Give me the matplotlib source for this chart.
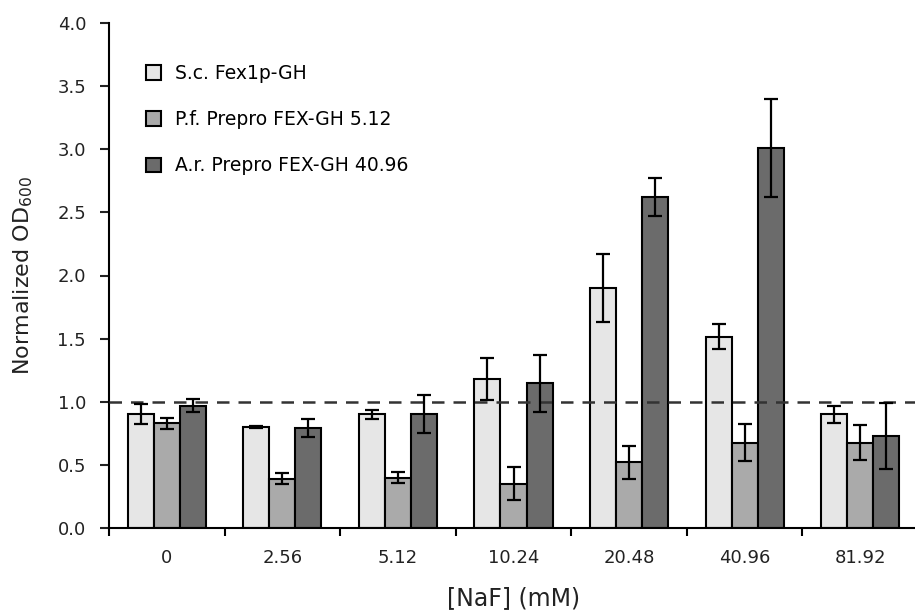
import numpy as np
import matplotlib
matplotlib.use("Agg")
import matplotlib.pyplot as plt
from matplotlib.patches import Patch

# data
concentrations = ["0", "2.56", "5.12", "10.24", "20.48", "40.96", "81.92"]
series_names = ["S.c. Fex1p-GH", "P.f. Prepro FEX-GH 5.12", "A.r. Prepro FEX-GH 40.96"]

sc_mean = [0.90, 0.80, 0.90, 1.18, 1.90, 1.515, 0.90]
sc_err = [0.08, 0.01, 0.035, 0.17, 0.27, 0.10, 0.07]
pf_mean = [0.83, 0.39, 0.40, 0.35, 0.52, 0.675, 0.675]
pf_err = [0.045, 0.045, 0.04, 0.13, 0.13, 0.145, 0.14]
ar_mean = [0.97, 0.79, 0.90, 1.145, 2.62, 3.01, 0.73]
ar_err = [0.05, 0.07, 0.15, 0.225, 0.15, 0.39, 0.26]

means = [sc_mean, pf_mean, ar_mean]
errs = [sc_err, pf_err, ar_err]
colors = ["#e6e6e6", "#aaaaaa", "#6b6b6b"]

plt.rcParams["font.family"] = ["DejaVu Sans"]

fig = plt.figure(figsize=(9.15, 6.15), dpi=100)
ax = fig.add_axes([109 / 915, 1 - 528 / 615, (918 - 109) / 915, (528 - 23) / 615])

x = np.arange(len(concentrations))
bar_w = 0.225
for i in range(3):
    pos = x + (i - 1) * bar_w
    ax.bar(pos, means[i], width=bar_w, color=colors[i], edgecolor="black", linewidth=1.5, zorder=2)
    ax.errorbar(pos, means[i], yerr=errs[i], fmt="none", ecolor="black", elinewidth=1.6,
                capsize=4.7, capthick=1.6, zorder=4)

ax.axhline(1.0, color="#333333", linewidth=1.8, linestyle=(0, (5, 3.6)), zorder=3)

ax.set_xlim(-0.5, len(concentrations) - 0.5)
ax.set_ylim(0, 4.0)
ax.set_yticks(np.arange(0, 4.01, 0.5))
ax.set_yticklabels([f"{v:.1f}" for v in np.arange(0, 4.01, 0.5)])
ax.set_xticks(x)
ax.set_xticklabels(concentrations)
ax.set_xticks(np.arange(-0.5, len(concentrations), 1.0), minor=True)

ax.spines["top"].set_visible(False)
ax.spines["right"].set_visible(False)
ax.spines["left"].set_linewidth(1.5)
ax.spines["bottom"].set_linewidth(1.5)

ax.tick_params(axis="y", direction="out", length=6.5, width=1.5, pad=10, labelsize=13, colors="#222222")
ax.tick_params(axis="x", which="major", length=0, pad=15, labelsize=13, colors="#222222")
ax.tick_params(axis="x", which="minor", direction="out", length=6, width=1.5)

ax.set_ylabel("Normalized OD$_{600}$", fontsize=16, color="#222222", labelpad=16)
ax.set_xlabel("[NaF] (mM)", fontsize=17, color="#222222", labelpad=14)

handles = [Patch(facecolor=c, edgecolor="black", linewidth=1.5) for c in colors]
ax.legend(handles, series_names, loc="upper left", bbox_to_anchor=(146 / 915, 1 - 64 / 615),
          bbox_transform=fig.transFigure, frameon=False, fontsize=13.5, labelspacing=1.45,
          handlelength=0.82, handleheight=0.82, handletextpad=0.75, borderpad=0, borderaxespad=0)

fig.savefig("out.png", dpi=100)
